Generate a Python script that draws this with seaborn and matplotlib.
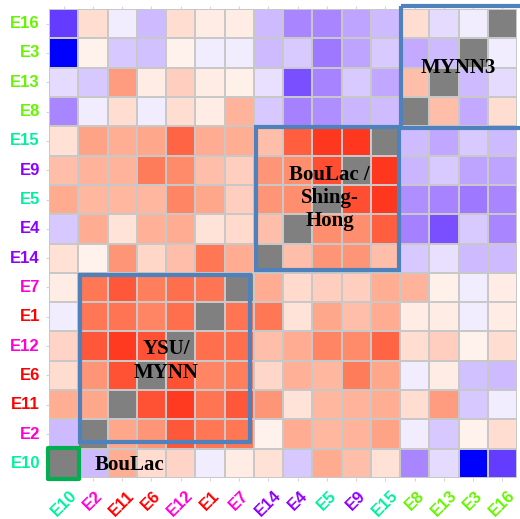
import numpy as np
import pandas as pd
import seaborn as sns
import matplotlib.pyplot as plt
from matplotlib.colors import LinearSegmentedColormap
from matplotlib.patches import Rectangle

# Member order along the x axis (rows are drawn in the reverse order)
members = ["E10", "E2", "E11", "E6", "E12", "E1", "E7", "E14",
           "E4", "E5", "E9", "E15", "E8", "E13", "E3", "E16"]

# Colour of each member label (grouped by scheme)
member_colors = {
    "E10": "#00F0A0", "E5": "#00F0A0", "E15": "#00F0A0",
    "E2": "#FF00D8", "E12": "#FF00D8", "E7": "#FF00D8",
    "E11": "#FF0000", "E6": "#FF0000", "E1": "#FF0000",
    "E14": "#8F00FF", "E4": "#8F00FF", "E9": "#8F00FF",
    "E8": "#66F500", "E13": "#66F500", "E3": "#66F500", "E16": "#66F500",
}

# Lower triangle of the symmetric similarity matrix:
# row k holds the values against the first k members
tri_E2 = [-0.25]
tri_E11 = [0.37, 0.40]
tri_E6 = [0.16, 0.47, 0.78]
tri_E12 = [0.20, 0.75, 0.90, 0.78]
tri_E1 = [-0.05, 0.62, 0.63, 0.55, 0.65]
tri_E7 = [0.08, 0.62, 0.75, 0.58, 0.65, 0.63]
tri_E14 = [0.14, 0.06, 0.47, 0.18, 0.30, 0.62, 0.38]
tri_E4 = [-0.20, 0.38, 0.13, 0.36, 0.38, 0.13, 0.17, 0.30]
tri_E5 = [0.39, 0.33, 0.33, 0.33, 0.55, 0.40, 0.22, 0.47, 0.50]
tri_E9 = [0.30, 0.35, 0.35, 0.60, 0.52, 0.30, 0.22, 0.47, 0.50, 0.80]
tri_E15 = [0.14, 0.42, 0.37, 0.40, 0.70, 0.38, 0.37, 0.30, 0.72, 0.92, 0.92]
tri_E8 = [-0.40, -0.05, 0.15, -0.05, 0.15, 0.08, 0.35, -0.20, -0.42, -0.38,
          -0.26, -0.24]
tri_E13 = [-0.12, -0.20, 0.45, 0.08, 0.22, 0.08, 0.07, -0.10, -0.61, -0.41,
           -0.19, -0.31, 0.30]
tri_E3 = [-1.00, 0.06, -0.20, -0.22, 0.06, -0.05, -0.05, -0.25, -0.19, -0.45,
          -0.32, -0.19, -0.30, -0.25]
tri_E16 = [-0.70, 0.15, -0.05, -0.25, 0.15, 0.08, 0.08, -0.25, -0.40, -0.40,
           -0.32, -0.25, 0.15, -0.12, -0.05]

lower_rows = [[], tri_E2, tri_E11, tri_E6, tri_E12, tri_E1, tri_E7, tri_E14,
              tri_E4, tri_E5, tri_E9, tri_E15, tri_E8, tri_E13, tri_E3, tri_E16]

n = len(members)
mat = np.full((n, n), np.nan)
for i, row in enumerate(lower_rows):
    for j, v in enumerate(row):
        mat[i, j] = v
        mat[j, i] = v

# Rows run from E16 at the top down to E10, so the diagonal is anti-diagonal
df = pd.DataFrame(mat[::-1], index=members[::-1], columns=members)

# Blue - violet - white - salmon - red diverging scale
nodes = [
    (-1.00, (0, 0, 255)), (-0.70, (100, 60, 255)), (-0.60, (125, 82, 255)),
    (-0.42, (165, 128, 255)), (-0.30, (195, 170, 255)), (-0.20, (215, 200, 255)),
    (-0.05, (242, 236, 255)), (0.00, (255, 255, 255)), (0.07, (255, 240, 232)),
    (0.15, (255, 222, 210)), (0.30, (255, 190, 170)), (0.40, (255, 168, 140)),
    (0.50, (255, 143, 112)), (0.62, (255, 120, 85)), (0.75, (255, 88, 58)),
    (0.92, (255, 55, 30)), (1.00, (255, 40, 20)),
]
cmap = LinearSegmentedColormap.from_list(
    "bpwr", [((v + 1) / 2, tuple(c / 255 for c in rgb)) for v, rgb in nodes])

fig = plt.figure(figsize=(5.2, 5.19), dpi=100)
ax = fig.add_axes([49 / 520, 1 - 478 / 519, 468 / 520, 469 / 519])

sns.heatmap(df, cmap=cmap, vmin=-1, vmax=1, cbar=False,
            linewidths=1.2, linecolor="#c8c8c8", ax=ax)
ax.set_facecolor("#808080")

ax.set_xticks(np.arange(n) + 0.5)
ax.set_yticks(np.arange(n) + 0.5)
ax.set_xticklabels(members, rotation=45, ha="center",
                   fontsize=12, fontweight="bold", family="Liberation Sans")
ax.set_yticklabels(members[::-1], rotation=0, va="center",
                   fontsize=12, fontweight="bold", family="Liberation Sans")
for lab in ax.get_xticklabels() + ax.get_yticklabels():
    lab.set_color(member_colors[lab.get_text()])

ax.tick_params(axis="both", length=2.5, width=0.8, color="#d4d4d4")
ax.tick_params(axis="x", top=True, pad=4.5)
ax.tick_params(axis="y", pad=4)
ax.set_xlabel("")
ax.set_ylabel("")

# Cluster outlines
box_color = "#4F81BD"
for (x0, y0, w, h) in [(12.02, -0.09, 4.3, 4.14),
                       (7.06, 4.04, 4.90, 4.88),
                       (1.05, 9.07, 5.82, 5.71)]:
    ax.add_patch(Rectangle((x0, y0), w, h, fill=False, ec=box_color, lw=3,
                           clip_on=False, zorder=5))
ax.add_patch(Rectangle((-0.02, 14.98), 1.05, 1.07, fill=False, ec="#00B050",
                       lw=3, joinstyle="round", clip_on=False, zorder=5))

serif = dict(ha="center", va="center", fontsize=15, fontweight="bold",
             family="Liberation Serif", color="black", zorder=6)
ax.text(14.0, 2.0, "MYNN3", **serif)
ax.text(9.6, 6.45, "BouLac /\nShing-\nHong", linespacing=1.22, **serif)
ax.text(4.0, 12.0, "YSU/\nMYNN", linespacing=1.3, **serif)
ax.text(2.75, 15.55, "BouLac", **serif)

fig.savefig("out.png", dpi=100)
